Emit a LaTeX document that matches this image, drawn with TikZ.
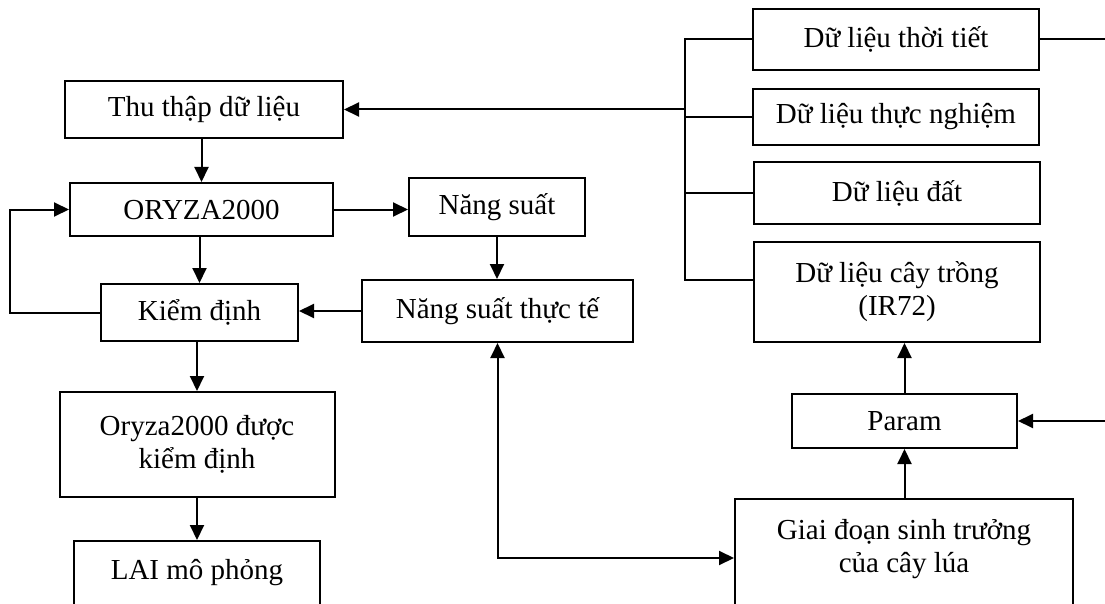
\documentclass[tikz,border=0pt]{standalone}
\usepackage{fontspec}
\setmainfont{Liberation Serif}
\usetikzlibrary{arrows.meta}

\begin{document}
\begin{tikzpicture}[x=1pt,y=-1pt,
    hop/.style={draw,line width=2pt,inner sep=0pt,align=center,
      font=\fontsize{29}{33}\selectfont},
    duong/.style={line width=2pt},
    muiten/.style={duong,-{Triangle[length=15pt,width=14pt]}},
    haimui/.style={duong,{Triangle[length=15pt,width=14pt]}-{Triangle[length=15pt,width=14pt]}}]

        % Khung cua hinh
        \useasboundingbox (0,0) rectangle (1105,604);
        \clip (0,0) rectangle (1105,604);

        % Cot ben trai
        \node[hop,minimum width=278pt,minimum height=57pt] (thuthap) at (204,109.5) {Thu thập dữ liệu};
        \node[hop,minimum width=263pt,minimum height=53pt] (oryza) at (201.5,209.5) {ORYZA2000};
        \node[hop,minimum width=197pt,minimum height=57pt] (kiemdinh) at (199.5,312.5) {Kiểm định};
        \node[hop,minimum width=275pt,minimum height=105pt] (duockd) at (197,444.5) {Oryza2000 được\\kiểm định};
        \node[hop,minimum width=246pt,minimum height=100pt] (lai) at (197,591) {LAI mô phỏng\\\strut};

        % Cot giua
        \node[hop,minimum width=176pt,minimum height=58pt] (nangsuat) at (497,207) {Năng suất};
        \node[hop,minimum width=271pt,minimum height=62pt] (nstt) at (497.5,311) {Năng suất thực tế};

        % Cot ben phai
        \node[hop,minimum width=286pt,minimum height=61pt] (thoitiet) at (896,39.5) {Dữ liệu thời tiết};
        \node[hop,minimum width=286pt,minimum height=56pt] (thucnghiem) at (896,117) {Dữ liệu thực nghiệm};
        \node[hop,minimum width=286pt,minimum height=62pt] (dat) at (897,193) {Dữ liệu đất};
        \node[hop,minimum width=286pt,minimum height=100pt] (caytrong) at (897,292) {Dữ liệu cây trồng\\(IR72)};
        \node[hop,minimum width=225pt,minimum height=54pt] (param) at (904.5,421) {Param};
        \node[hop,minimum width=338pt,minimum height=136pt] (giaidoan) at (904,567) {Giai đoạn sinh trưởng\\của cây lúa\\\strut};

        % Diem noi
        \coordinate (bus) at (685,109.5);
        \coordinate (ratt) at (1105,39.5);
        \coordinate (vaoparam) at (1105,421);

        % Mui ten cot trai
        \draw[muiten] (thuthap.south -| oryza.north) -- (oryza.north);
        \draw[muiten] (oryza.south -| kiemdinh.north) -- (kiemdinh.north);
        \draw[muiten] (kiemdinh.south -| duockd.north) -- (duockd.north);
        \draw[muiten] (duockd.south) -- (lai.north);
        \draw[muiten] (kiemdinh.west) -- ++(-90,0) |- (oryza.west);

        % Mui ten cot giua
        \draw[muiten] (oryza.east) -- (oryza.east -| nangsuat.west);
        \draw[muiten] (nangsuat.south) -- (nangsuat.south |- nstt.north);
        \draw[muiten] (nstt.west) -- (nstt.west -| kiemdinh.east);
        \draw[haimui] (nstt.south) |- ([yshift=9pt]giaidoan.west);

        % Du lieu dau vao
        \draw[duong] (thoitiet.west) -| (bus);
        \draw[duong] ([yshift=12pt]caytrong.west) -| (bus);
        \draw[duong] (thucnghiem.west) -- (thucnghiem.west -| bus);
        \draw[duong] (dat.west) -- (dat.west -| bus);
        \draw[muiten] (bus) -- (thuthap.east);
        \draw[duong] (thoitiet.east) -- (ratt);

        % Param
        \draw[muiten] (param.south |- giaidoan.north) -- (param.south);
        \draw[muiten] (param.north) -- (param.north |- caytrong.south);
        \draw[muiten] (vaoparam) -- (param.east);

    \end{tikzpicture}
\end{document}
